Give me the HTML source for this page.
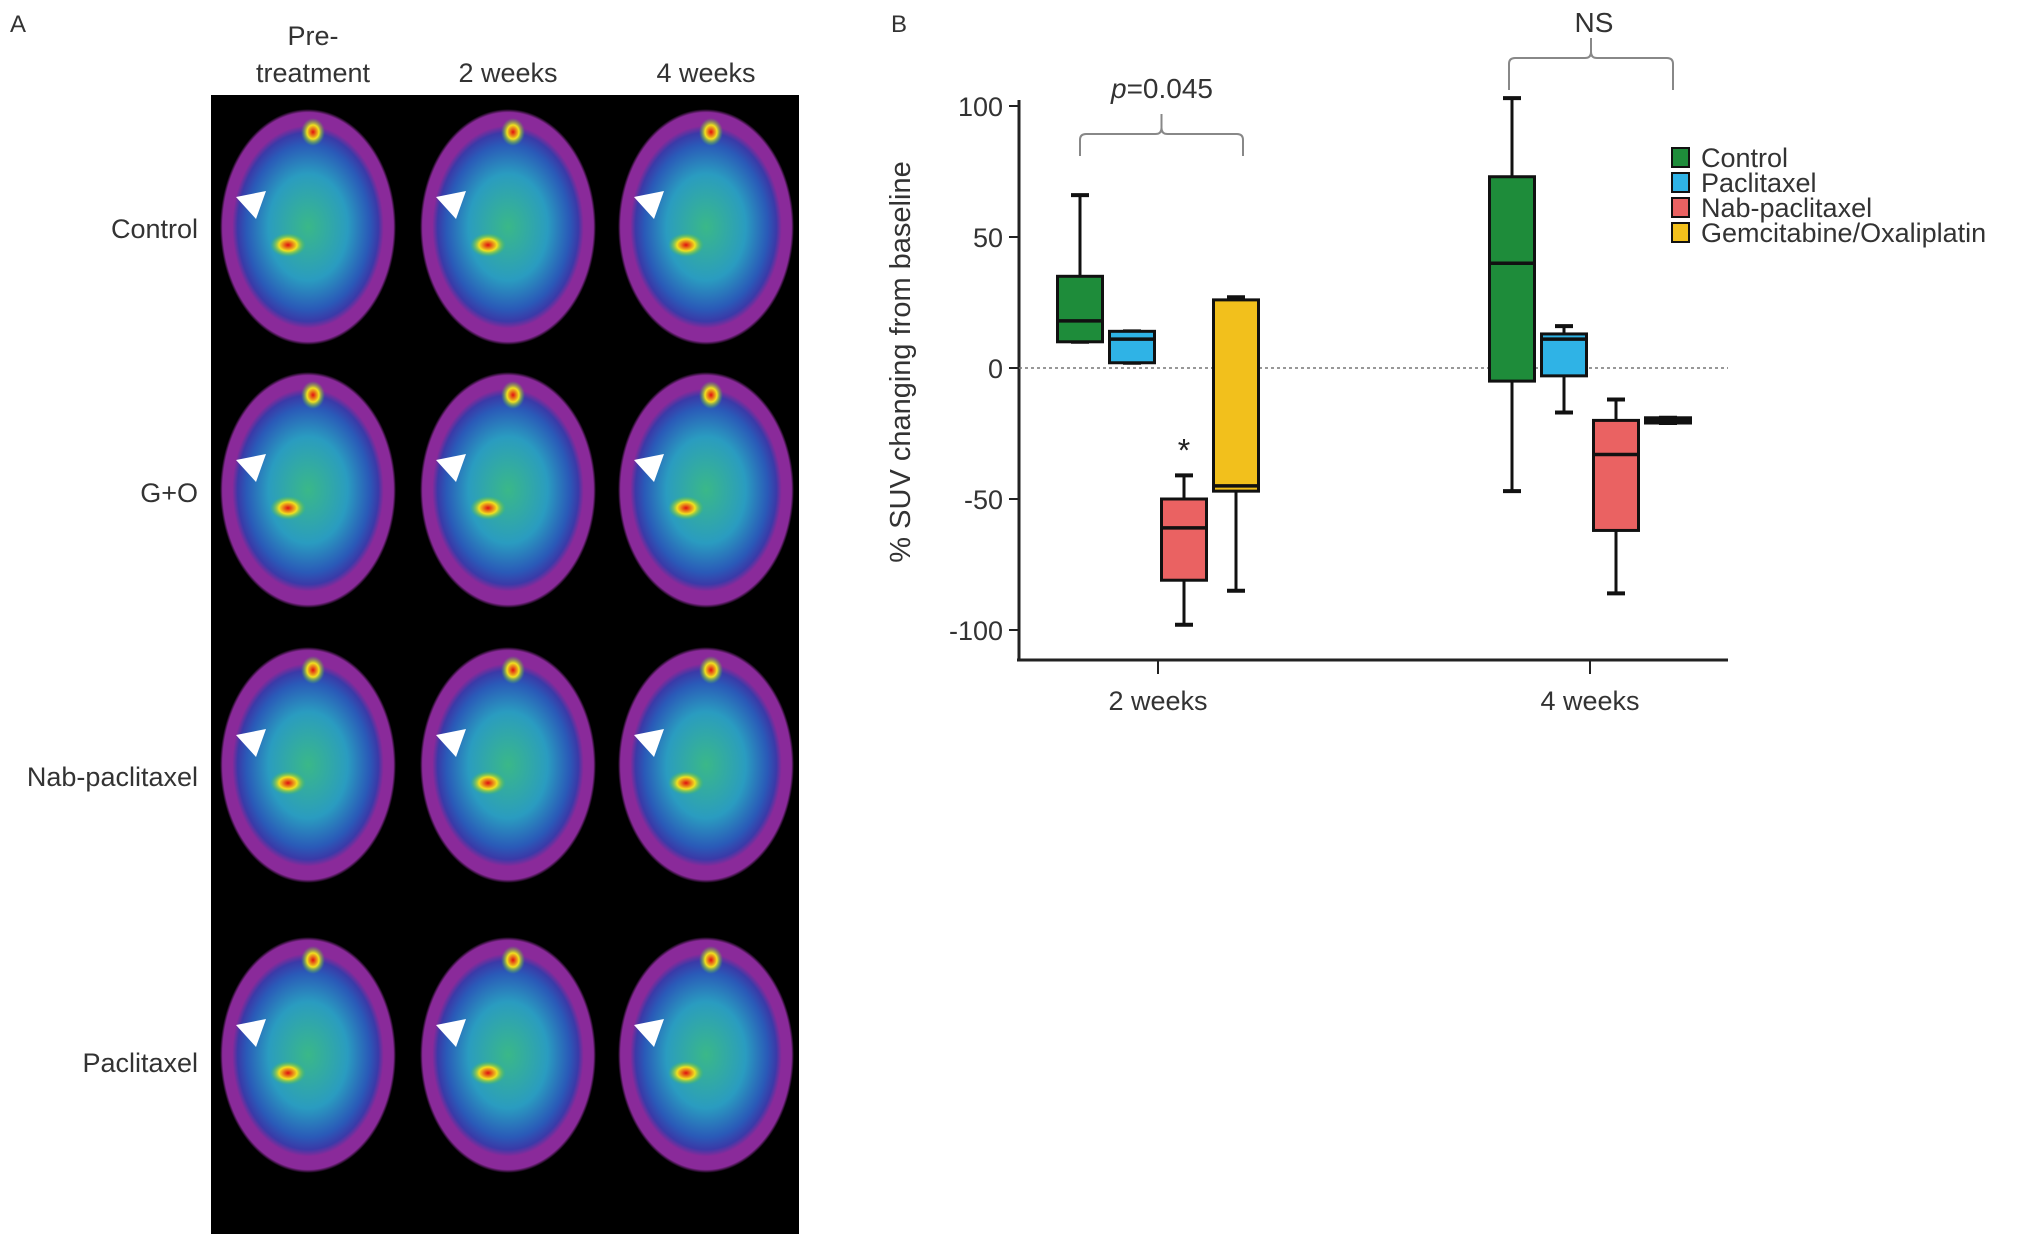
<!DOCTYPE html>
<html><head><meta charset="utf-8"><style>
html,body{margin:0;padding:0;background:#fff;}
svg{display:block;font-family:"Liberation Sans",Arial,sans-serif;}
</style></head><body>
<svg id="fig" width="2031" height="1248" viewBox="0 0 2031 1248" xmlns="http://www.w3.org/2000/svg">
<defs>
<radialGradient id="brainG" cx="50%" cy="50%" r="50%">
<stop offset="0" stop-color="#3ab888"/><stop offset="0.45" stop-color="#2a9cc0"/><stop offset="0.7" stop-color="#2a5ab8"/><stop offset="0.8" stop-color="#3a3aa8"/><stop offset="0.86" stop-color="#8a2a9a"/><stop offset="0.97" stop-color="#8a2a9a"/><stop offset="1" stop-color="#000"/>
</radialGradient>
<radialGradient id="hot" cx="50%" cy="50%" r="50%">
<stop offset="0" stop-color="#e01010"/><stop offset="0.5" stop-color="#f0e020"/><stop offset="1" stop-color="#40c040" stop-opacity="0"/>
</radialGradient>
</defs>
<text x="10" y="32" font-size="24" fill="#333">A</text>
<text x="891" y="32" font-size="24" fill="#333">B</text>
<g id="panelA">
<rect x="211" y="95" width="588" height="1139" fill="#000"/>
</g>
<g id="chart"></g>
<script>
const groups=["2 weeks","4 weeks"];
const series=["Control","Paclitaxel","Nab-paclitaxel","Gemcitabine/Oxaliplatin"];
const colors=["#1e8c3a","#2fb3e6","#ea6262","#f2c01c"];
const mins=[[10,2,-98,-85],[-47,-17,-86,-21]];
const q1s=[[10,2,-81,-47],[-5,-3,-62,-21]];
const meds=[[18,11,-61,-45],[40,11,-33,-20]];
const q3s=[[35,14,-50,26],[73,13,-20,-19]];
const maxs=[[66,14,-41,27],[103,16,-12,-19]];
const yTicks=[100,50,0,-50,-100];
const rowLabels=["Control","G+O","Nab-paclitaxel","Paclitaxel"];
const colLabels=["treatment","2 weeks","4 weeks"];

const NS="http://www.w3.org/2000/svg";
function mk(tag,attrs,parent,text){const e=document.createElementNS(NS,tag);for(const k in attrs)e.setAttribute(k,attrs[k]);if(text!==undefined)e.textContent=text;parent.appendChild(e);return e;}
const y=v=>368-v*2.62;
const gx=i=>1158+i*432;
const off=[-78,-26,26,78];
const chart=document.getElementById('chart');

let ax=mk('line',{x1:1019,y1:100,x2:1019,y2:660,stroke:'#222','stroke-width':3},chart);


let axx=mk('line',{x1:1017,y1:660,x2:1728,y2:660,stroke:'#222','stroke-width':3},chart);


let zl=mk('line',{x1:1019,y1:y(0),x2:1728,y2:y(0),stroke:'#777','stroke-width':1.5,'stroke-dasharray':'3,3'},chart);


yTicks.forEach(t=>{
 let tk=mk('line',{x1:1009,y1:y(t),x2:1019,y2:y(t),stroke:'#222','stroke-width':2},chart);
 
 
 let tl=mk('text',{x:1003,y:y(t)+10,'text-anchor':'end','font-size':27,fill:'#333'},chart,String(t));
 
 
});
groups.forEach((g,i)=>{
 let tk=mk('line',{x1:gx(i),y1:660,x2:gx(i),y2:674,stroke:'#222','stroke-width':2},chart);
 
 
 let tl=mk('text',{x:gx(i),y:710,'text-anchor':'middle','font-size':27,fill:'#333'},chart,g);
 
 
});
let yl=mk('text',{x:0,y:0,transform:'translate(910,362) rotate(-90)','text-anchor':'middle','font-size':29,fill:'#333'},chart,'% SUV changing from baseline');



groups.forEach((g,i)=>{
 series.forEach((s,j)=>{
  const cx=gx(i)+off[j], w=45;
  const gr=mk('g',{},chart);
  
  
  mk('line',{x1:cx,y1:y(maxs[i][j]),x2:cx,y2:y(q3s[i][j]),stroke:'#111','stroke-width':3},gr);
  mk('line',{x1:cx,y1:y(q1s[i][j]),x2:cx,y2:y(mins[i][j]),stroke:'#111','stroke-width':3},gr);
  mk('line',{x1:cx-9,y1:y(maxs[i][j]),x2:cx+9,y2:y(maxs[i][j]),stroke:'#111','stroke-width':4},gr);
  mk('line',{x1:cx-9,y1:y(mins[i][j]),x2:cx+9,y2:y(mins[i][j]),stroke:'#111','stroke-width':4},gr);
  const top=y(q3s[i][j]),bot=y(q1s[i][j]);
  mk('rect',{x:cx-w/2,y:top,width:w,height:Math.max(bot-top,2),fill:colors[j],stroke:'#111','stroke-width':3},gr);
  mk('line',{x1:cx-w/2,y1:y(meds[i][j]),x2:cx+w/2,y2:y(meds[i][j]),stroke:'#111','stroke-width':3.5},gr);
 });
});
let st=mk('text',{x:gx(0)+off[2],y:y(maxs[0][2])-14,'text-anchor':'middle','font-size':32,fill:'#222'},chart,'*');



function bracket(x1,x2,yb,ytop,name){
 const xm=(x1+x2)/2;
 const p=mk('path',{d:`M${x1} ${yb} L${x1} ${ytop+6} Q${x1} ${ytop} ${x1+6} ${ytop} L${xm-6} ${ytop} Q${xm} ${ytop} ${xm} ${ytop-6} L${xm} ${ytop-20} M${xm} ${ytop-6} Q${xm} ${ytop} ${xm+6} ${ytop} L${x2-6} ${ytop} Q${x2} ${ytop} ${x2} ${ytop+6} L${x2} ${yb}`,fill:'none',stroke:'#888','stroke-width':2},chart);
 
 
}
bracket(1080,1243,156,134,'bracket-2-weeks');
bracket(1509,1673,90,58,'bracket-4-weeks');
let pt=mk('text',{x:1162,y:98,'text-anchor':'middle','font-size':28,fill:'#333'},chart);


mk('tspan',{'font-style':'italic'},pt,'p');
mk('tspan',{},pt,'=0.045');
let ns=mk('text',{x:1594,y:32,'text-anchor':'middle','font-size':28,fill:'#333'},chart,'NS');



series.forEach((s,j)=>{
 const ly=148+j*25;
 const sw=mk('rect',{x:1672,y:ly,width:17,height:19,fill:colors[j],stroke:'#111','stroke-width':2},chart);
 
 
 const lt=mk('text',{x:1701,y:ly+19,'font-size':27,fill:'#333'},chart,s);
 
 
});

const pa=document.getElementById('panelA');
let pre=mk('text',{x:313,y:45,'text-anchor':'middle','font-size':27,fill:'#333'},pa,'Pre-');


const colX=[308,508,706], rowY=[227,490,765,1055];
colLabels.forEach((c,i)=>{
 const t=mk('text',{x:[313,508,706][i],y:82,'text-anchor':'middle','font-size':27,fill:'#333'},pa,c);
 
 
});
rowLabels.forEach((r,i)=>{
 const t=mk('text',{x:198,y:[238,502,786,1072][i],'text-anchor':'end','font-size':27,fill:'#333'},pa,r);
 
 
});
rowY.forEach((ry,r)=>{
 colX.forEach((cx,c)=>{
  const b=mk('ellipse',{cx:cx,cy:ry,rx:88,ry:118,fill:'url(#brainG)'},pa);
  
  
  mk('ellipse',{cx:cx+5,cy:ry-95,rx:12,ry:14,fill:'url(#hot)'},pa);
  mk('ellipse',{cx:cx-20,cy:ry+18,rx:18,ry:12,fill:'url(#hot)'},pa);
  const tri=mk('polygon',{points:`${cx-72},${ry-30} ${cx-52},${ry-8} ${cx-42},${ry-36}`,fill:'#fff'},pa);
  
  
 });
});
</script>
</svg>
</body></html>
